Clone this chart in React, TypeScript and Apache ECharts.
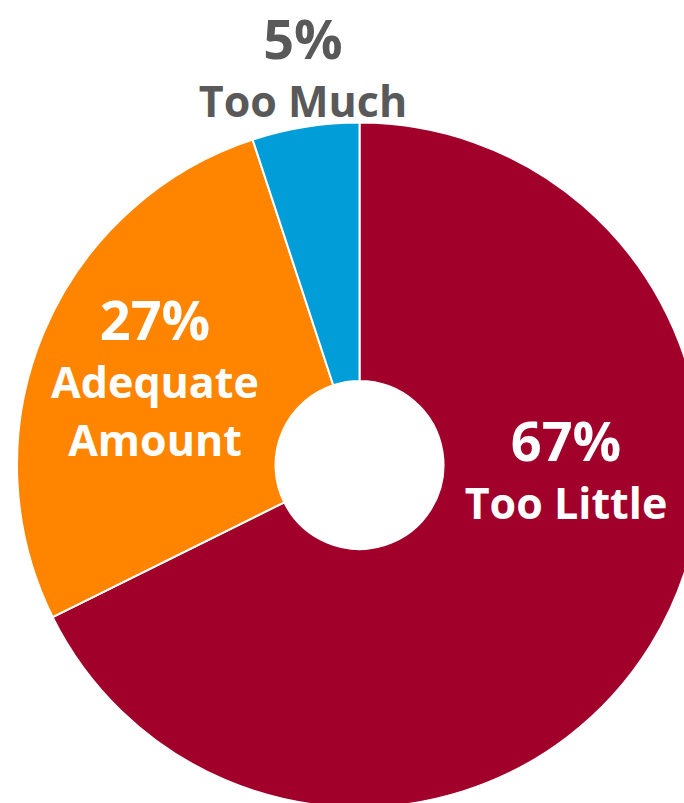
import React, { useEffect, useRef } from "react";
import * as echarts from "echarts";

const categories = ["Too Little", "Adequate\nAmount", "Too Much"];
const percents = [67, 27, 5];
const sliceColors = ["#A1002B", "#FF8500", "#009DD9"];
const labelColors = ["#FFFFFF", "#FFFFFF", "#595959"];
// label block anchor (center x, top y) in pixels
const labelAnchors = [
  [566, 407],
  [155, 286],
  [303, 5],
];

export default function App() {
  const ref = useRef<HTMLDivElement>(null);
  useEffect(() => {
    if (!ref.current) return;
    const chart = echarts.init(ref.current, null, { renderer: "svg" });
    chart.setOption({
      animation: false,
      backgroundColor: "#ffffff",
      series: [
        {
          type: "pie",
          center: [359.5, 465],
          radius: [84, 342.5],
          startAngle: 90,
          clockwise: true,
          avoidLabelOverlap: false,
          itemStyle: { borderColor: "#ffffff", borderWidth: 2 },
          labelLine: { show: false },
          label: {
            show: true,
            position: "inside",
            fontFamily: "Open Sans",
            fontWeight: "bold",
            formatter: (p: any) => `{p|${p.value}%}\n{n|${p.name}}`,
            rich: {
              p: { fontSize: 54, lineHeight: 66, fontWeight: "bold", fontFamily: "Open Sans" },
              n: { fontSize: 43, lineHeight: 58, fontWeight: "bold", fontFamily: "Open Sans" },
            },
          },
          labelLayout: (params: any) => ({
            x: labelAnchors[params.dataIndex][0],
            y: labelAnchors[params.dataIndex][1],
            align: "center",
            verticalAlign: "top",
          }),
          emphasis: { disabled: true },
          data: categories.map((name, i) => ({
            name,
            value: percents[i],
            itemStyle: { color: sliceColors[i] },
            label: {
              color: labelColors[i],
              rich: {
                p: { color: labelColors[i] },
                n: { color: labelColors[i] },
              },
            },
          })),
        },
      ],
    });
    return () => chart.dispose();
  }, []);
  return (
    <div
      ref={ref}
      style={{ position: "fixed", left: 0, top: 0, width: 684, height: 803 }}
    />
  );
}
